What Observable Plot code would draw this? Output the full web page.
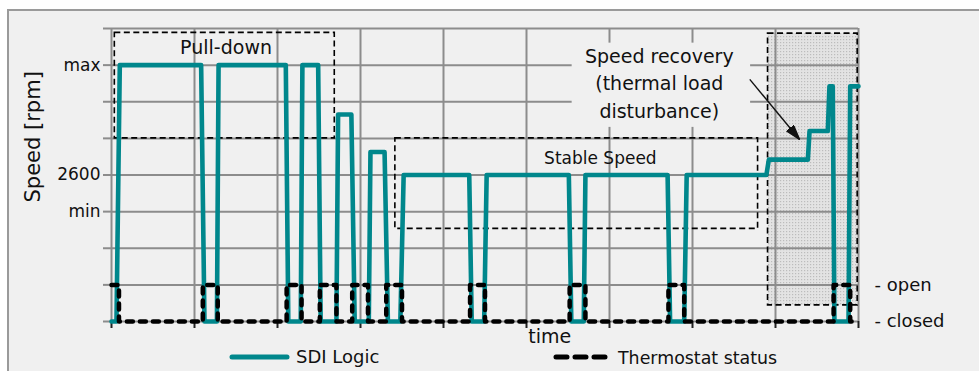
<!DOCTYPE html>
<html>
<head>
<meta charset="utf-8">
<script src="https://cdn.jsdelivr.net/npm/d3@7"></script>
<script src="https://cdn.jsdelivr.net/npm/@observablehq/plot@0.6"></script>
<style>
  html, body { margin: 0; padding: 0; background: #fff; }
  #wrap { position: relative; width: 979px; height: 371px; overflow: hidden; background: #fff; font-family: "DejaVu Sans", sans-serif; color: #111; }
  #panel { position: absolute; left: 7px; top: 9px; width: 1000px; height: 400px; background: #f0f0f0; border-left: 2px solid #9a9a9a; border-top: 2px solid #9a9a9a; }
  #chart { position: absolute; left: 0; top: 0; }
  .leg { position: absolute; white-space: nowrap; line-height: 18px; }
</style>
</head>
<body>
<div id="wrap">
  <div id="panel"></div>
  <div id="chart"></div>
  <svg class="leg" style="left:224px;top:349px" width="72" height="16"><line x1="8" y1="8" x2="63" y2="8" stroke="#00878c" stroke-width="5" stroke-linecap="round"/></svg>
  <div class="leg" style="left:296px;top:348px;font-size:18px;">SDI Logic</div>
  <svg class="leg" style="left:546px;top:349px" width="70" height="16"><line x1="10" y1="8" x2="62" y2="8" stroke="#000" stroke-width="5" stroke-linecap="round" stroke-dasharray="11,8"/></svg>
  <div class="leg" style="left:618px;top:349px;font-size:17.4px;">Thermostat status</div>
</div>
<script>
// ---- data (time in grid units, speed in gridline levels) ----
const sdiTime  = [0, 0.06, 0.10, 1.08, 1.12, 1.27, 1.29, 2.10, 2.13, 2.28, 2.30, 2.49, 2.52, 2.71, 2.73, 2.89, 2.93, 3.10, 3.12, 3.29, 3.33, 3.48, 3.52, 4.31, 4.34, 4.49, 4.52, 5.51, 5.54, 5.69, 5.71, 6.70, 6.73, 6.90, 6.93, 7.89, 7.92, 8.39, 8.41, 8.63, 8.65, 8.69, 8.71, 8.88, 8.90, 9.0];
const sdiSpeed = [0, 0, 7, 7, 0, 0, 7, 7, 0, 0, 7, 7, 0, 0, 5.65, 5.65, 0, 0, 4.63, 4.63, 0, 0, 4, 4, 0, 0, 4, 4, 0, 0, 4, 4, 0, 0, 4, 4, 4.42, 4.42, 5.2, 5.2, 6.42, 6.42, 0, 0, 6.42, 6.42];

const thermoTime  = [0, 0.09, 1.10, 1.28, 2.11, 2.29, 2.51, 2.71, 2.90, 3.09, 3.31, 3.50, 4.32, 4.50, 5.52, 5.71, 6.71, 6.90, 8.70, 8.90, 9.0];
const thermoState = [1, 0, 1, 0, 1, 0, 1, 0, 1, 0, 1, 0, 1, 0, 1, 0, 1, 0, 1, 0, 0];

const xGridTicks = [0, 1, 2, 3, 4, 5, 6, 7, 8, 9];
const yGridTicks = [0, 1, 2, 3, 4, 5, 6, 7, 8];
const speedTickValues = [3, 4, 7];
const speedTickLabels = ["min", "2600", "max"];
const stateTickValues = [0, 1];
const stateTickLabels = ["- closed", "- open"];

// annotation boxes: Pull-down, Stable Speed, Speed recovery
const boxName = ["Pull-down", "Stable Speed", "Speed recovery"];
const boxX1 = [0.04, 3.42, 7.91];
const boxX2 = [2.69, 7.79, 8.99];
const boxY1 = [5.0, 2.53, 0.44];
const boxY2 = [7.88, 5.0, 7.86];

const noteText = ["Pull-down", "Stable Speed", "Speed recovery\n(thermal load\ndisturbance)"];
const noteX = [1.38, 5.89, 6.60];
const noteY = [7.46, 4.45, 6.56];
const noteBg = {x1: 5.55, x2: 7.70, y1: 5.3, y2: 7.6};
const arrowFrom = {x: 7.69, y: 6.61};
const arrowTo = {x: 8.29, y: 4.97};
const timeLabel = {text: "time", x: 5.28};
const speedLabel = {text: "Speed [rpm]", y: 3.25};

// ---- build tables ----
const sdi = sdiTime.map((t, i) => ({t, v: sdiSpeed[i]}));
const thermo = thermoTime.map((t, i) => ({t, v: thermoState[i]}));
const boxes = boxName.map((n, i) => ({n, x1: boxX1[i], x2: boxX2[i], y1: boxY1[i], y2: boxY2[i]}));
const notes = noteText.map((s, i) => ({s, x: noteX[i], y: noteY[i]}));
const speedLab = new Map(speedTickValues.map((v, i) => [v, speedTickLabels[i]]));
const stateLab = new Map(stateTickValues.map((v, i) => [v, stateTickLabels[i]]));

const teal = "#00878c";
const gridGray = "#8c8c8c";

function headMarker(color) {
  const m = d3.create("svg:marker")
    .attr("viewBox", "-15 -5 15 10")
    .attr("markerWidth", 15).attr("markerHeight", 10)
    .attr("markerUnits", "userSpaceOnUse")
    .attr("orient", "auto")
    .attr("refX", 0).attr("refY", 0);
  m.append("path").attr("d", "M-15,-4.5L0,0L-15,4.5Z").attr("fill", color);
  return m.node();
}

const chart = Plot.plot({
  width: 979,
  height: 371,
  marginLeft: 111,
  marginRight: 121,
  marginTop: 28,
  marginBottom: 50,
  style: {fontFamily: "DejaVu Sans, sans-serif", fontSize: "17px", background: "transparent", color: "#111", overflow: "visible"},
  x: {domain: [0, 9], axis: null},
  y: {domain: [0, 8], axis: null},
  marks: [
    // shaded recovery region
    Plot.rect([boxes[2]], {x1: "x1", x2: "x2", y1: "y1", y2: "y2", fill: "url(#dots)"}),
    // grid
    Plot.gridX({ticks: xGridTicks, stroke: gridGray, strokeOpacity: 1, strokeWidth: 2}),
    Plot.gridY({ticks: yGridTicks, stroke: gridGray, strokeOpacity: 1, strokeWidth: 2}),
    Plot.axisY({ticks: yGridTicks, tickSize: 8, tickPadding: 3, stroke: gridGray, strokeWidth: 2,
      tickFormat: d => speedLab.get(d) ?? "", fontSize: 17, label: null}),
    Plot.axisY({anchor: "right", ticks: stateTickValues, tickSize: 0, tickPadding: 16,
      tickFormat: d => stateLab.get(d) ?? "", fontSize: 18, label: null}),
    Plot.axisX({ticks: xGridTicks, tickSize: 7, stroke: "#222", strokeWidth: 2, tickFormat: () => "", label: null}),
    // background behind recovery note
    Plot.rect([noteBg], {x1: "x1", x2: "x2", y1: "y1", y2: "y2", fill: "#f0f0f0"}),
    // dashed annotation boxes
    Plot.rect(boxes, {x1: "x1", x2: "x2", y1: "y1", y2: "y2", fill: "none", stroke: "#000",
      strokeWidth: 1.6, strokeDasharray: "6,3.5"}),
    // series
    Plot.line(sdi, {x: "t", y: "v", stroke: teal, strokeWidth: 4.6, strokeLinejoin: "round"}),
    Plot.line(thermo, {x: "t", y: "v", curve: "step-after", stroke: "#000", strokeWidth: 4.5,
      strokeDasharray: "6,7", strokeLinecap: "round", strokeLinejoin: "round"}),
    // notes
    Plot.text([notes[0]], {x: "x", y: "y", text: "s", fontSize: 19, fill: "#111"}),
    Plot.text([notes[1]], {x: "x", y: "y", text: "s", fontSize: 17, fill: "#111"}),
    Plot.text([notes[2]], {x: "x", y: "y", text: "s", fontSize: 19, lineHeight: 1.45, fill: "#111"}),
    Plot.link([{}], {x1: () => arrowFrom.x, y1: () => arrowFrom.y, x2: () => arrowTo.x, y2: () => arrowTo.y,
      stroke: "#111", strokeWidth: 1.4, markerEnd: headMarker}),
    // axis titles
    Plot.text([timeLabel], {x: "x", text: "text", frameAnchor: "bottom", dy: 21, fontSize: 19, fill: "#111"}),
    Plot.text([speedLabel], {y: "y", text: "text", frameAnchor: "left", dx: -78, rotate: -90, fontSize: 21, fill: "#111"})
  ]
});

d3.select(chart).insert("defs", ":first-child").html(
  '<pattern id="dots" width="3" height="3" patternUnits="userSpaceOnUse">' +
  '<rect width="3" height="3" fill="#e3e3e3"/><rect width="1.2" height="1.2" fill="#bcbcbc"/></pattern>'
);
document.getElementById("chart").appendChild(chart);
</script>
</body>
</html>
